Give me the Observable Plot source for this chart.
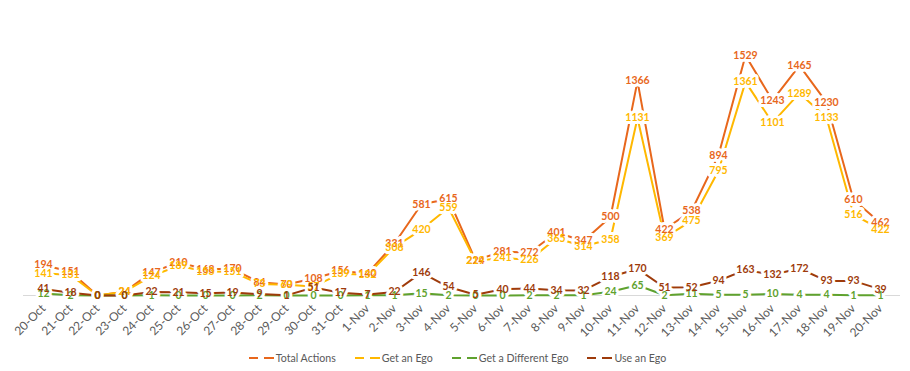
<!DOCTYPE html>
<html>
<head>
<meta charset="utf-8">
<script src="https://cdn.jsdelivr.net/npm/d3@7"></script>
<script src="https://cdn.jsdelivr.net/npm/@observablehq/plot@0.6"></script>
<style>
  body { margin: 0; background: #fff; font-family: Lato, "Open Sans", sans-serif; }
  #legend { display: flex; justify-content: center; align-items: center; height: 26px; font-size: 10.6px; color: #595959; padding-left: 4px; }
  .item { display: flex; align-items: center; margin: 0 9px; }
  .item svg { margin-right: 2px; }
</style>
</head>
<body>
<div id="chart"></div>
<div id="legend"></div>
<script>
const dates = ["20-Oct","21-Oct","22-Oct","23-Oct","24-Oct","25-Oct","26-Oct","27-Oct","28-Oct","29-Oct","30-Oct","31-Oct",
  "1-Nov","2-Nov","3-Nov","4-Nov","5-Nov","6-Nov","7-Nov","8-Nov","9-Nov","10-Nov","11-Nov","12-Nov","13-Nov","14-Nov",
  "15-Nov","16-Nov","17-Nov","18-Nov","19-Nov","20-Nov"];
const totalActions = [194,151,0,24,147,210,168,170,84,70,108,156,140,331,581,615,224,281,272,401,347,500,1366,422,538,894,1529,1243,1465,1230,610,462];
const getAnEgo = [141,131,0,24,124,189,153,151,73,69,57,139,132,308,420,559,219,241,226,365,314,358,1131,369,475,795,1361,1101,1289,1133,516,422];
const getDifferentEgo = [12,2,0,0,1,0,0,0,2,0,0,0,1,1,15,2,0,0,2,2,1,24,65,2,11,5,5,10,4,4,1,1];
const useAnEgo = [41,18,0,0,22,21,15,19,9,1,51,17,7,22,146,54,5,40,44,34,32,118,170,51,52,94,163,132,172,93,93,39];
const seriesNames = ["Total Actions","Get an Ego","Get a Different Ego","Use an Ego"];
const seriesColors = ["#E8671C","#FFB800","#5FA22E","#9E3B0B"];
const seriesValues = [totalActions, getAnEgo, getDifferentEgo, useAnEgo];

const data = [];
seriesNames.forEach((s, i) => dates.forEach((d, j) => data.push({series: s, date: d, value: seriesValues[i][j]})));

const chart = Plot.plot({
  width: 910,
  height: 345,
  marginLeft: 23,
  marginRight: 10,
  marginTop: 55,
  marginBottom: 50,
  style: {fontFamily: "Lato, 'Open Sans', sans-serif", background: "#fff"},
  x: {type: "point", domain: dates, padding: 0.5, label: null},
  y: {domain: [0, 1529], axis: null},
  color: {domain: seriesNames, range: seriesColors},
  marks: [
    Plot.ruleY([0], {stroke: "#D9D9D9", strokeWidth: 1}),
    Plot.axisX({tickSize: 0, tickPadding: 11, tickRotate: -45, fontSize: 12, color: "#595959", label: null}),
    Plot.line(data, {x: "date", y: "value", z: "series", stroke: "series", strokeWidth: 2}),
    Plot.text(data, {x: "date", y: "value", text: d => String(d.value), fill: "white", stroke: "white", strokeWidth: 6, fontSize: 10.5, fontWeight: "bold"}),
    Plot.text(data, {x: "date", y: "value", text: d => String(d.value), fill: "series", fontSize: 10.5, fontWeight: "bold"})
  ]
});
document.getElementById("chart").appendChild(chart);

const legend = document.getElementById("legend");
seriesNames.forEach((s, i) => {
  const item = document.createElement("div");
  item.className = "item";
  item.innerHTML = `<svg width="26" height="10"><line x1="1" y1="5" x2="10" y2="5" stroke="${seriesColors[i]}" stroke-width="2"/><line x1="16" y1="5" x2="26" y2="5" stroke="${seriesColors[i]}" stroke-width="2"/></svg><span>${s}</span>`;
  legend.appendChild(item);
});
</script>
</body>
</html>
